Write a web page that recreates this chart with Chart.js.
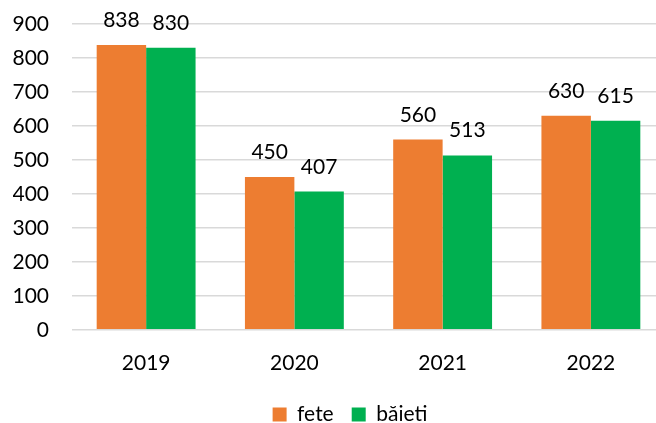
<!DOCTYPE html>
<html>
<head>
<meta charset="utf-8">
<script src="https://cdn.jsdelivr.net/npm/chart.js@4/dist/chart.umd.min.js"></script>
<style>
html,body{margin:0;padding:0;background:#fff;overflow:hidden;}
#wrap{width:656px;height:423px;overflow:hidden;}
canvas{display:block;}
</style>
</head>
<body>
<div id="wrap"><canvas id="c" width="666" height="423"></canvas></div>
<script>
const categories = ['2019', '2020', '2021', '2022'];
const seriesNames = ['fete', 'băieti'];
const feteValues = [838, 450, 560, 630];
const baietiValues = [830, 407, 513, 615];
const yTicks = [0, 100, 200, 300, 400, 500, 600, 700, 800, 900];

const FONT = 'Lato';
const FS = 21;

const valueLabels = {
  id: 'valueLabels',
  afterDatasetsDraw(chart) {
    const ctx = chart.ctx;
    ctx.save();
    ctx.font = FS + 'px ' + FONT;
    ctx.fillStyle = '#000';
    ctx.textAlign = 'center';
    ctx.textBaseline = 'alphabetic';
    chart.data.datasets.forEach((ds, i) => {
      const meta = chart.getDatasetMeta(i);
      meta.data.forEach((bar, j) => {
        ctx.fillText(String(ds.data[j]), bar.x, bar.y - 18);
      });
    });
    ctx.restore();
  }
};

const legendShift = {
  id: 'legendShift',
  afterLayout(chart) {
    const l = chart.legend;
    if (l) { l.left += 11; l.right += 11; }
  }
};

new Chart(document.getElementById('c'), {
  type: 'bar',
  data: {
    labels: categories,
    datasets: [
      { label: seriesNames[0], data: feteValues, backgroundColor: '#ED7D31', borderWidth: 0,
        categoryPercentage: 0.667, barPercentage: 1.0 },
      { label: seriesNames[1], data: baietiValues, backgroundColor: '#00B050', borderWidth: 0,
        categoryPercentage: 0.667, barPercentage: 1.0 }
    ]
  },
  options: {
    responsive: false,
    animation: false,
    layout: { padding: { left: 13, right: 1, top: 24, bottom: -12 } },
    plugins: {
      legend: {
        position: 'bottom',
        labels: {
          boxWidth: 14, boxHeight: 14, padding: 18,
          color: '#000',
          font: { family: FONT, size: FS }
        }
      },
      tooltip: { enabled: false }
    },
    scales: {
      x: {
        grid: { display: false, drawTicks: false },
        border: { display: false },
        afterFit(axis) { axis.height = axis.height - 11; },
        ticks: { color: '#000', font: { family: FONT, size: FS }, padding: 21 }
      },
      y: {
        min: yTicks[0],
        max: yTicks[yTicks.length - 1],
        afterBuildTicks(axis) { axis.ticks = yTicks.map(v => ({ value: v })); },
        afterFit(axis) { axis.width = 59; axis.paddingTop = 0; axis.paddingBottom = 0; },
        grid: { color: '#d9d9d9', lineWidth: 1.5, drawTicks: false },
        border: { display: false },
        ticks: { color: '#000', font: { family: FONT, size: FS }, padding: 23 }
      }
    }
  },
  plugins: [valueLabels, legendShift]
});
</script>
</body>
</html>
